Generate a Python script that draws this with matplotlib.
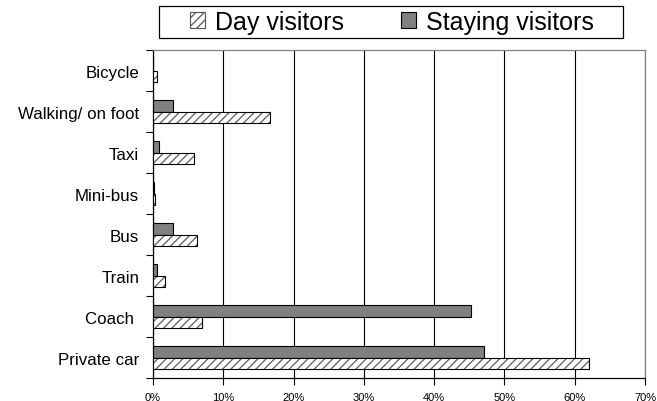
import matplotlib
matplotlib.use("Agg")
import matplotlib.pyplot as plt
import numpy as np
from matplotlib.patches import Patch, Rectangle
from matplotlib.ticker import FuncFormatter, MultipleLocator, FixedLocator

plt.rcParams['font.family'] = ['Liberation Sans', 'DejaVu Sans']
plt.rcParams['hatch.linewidth'] = 0.9

# transport mode shares (%), listed top to bottom
modes = ['Bicycle', 'Walking/ on foot', 'Taxi', 'Mini-bus', 'Bus', 'Train',
         'Coach ', 'Private car']
day_visitors = [0.6, 16.7, 5.9, 0.3, 6.2, 1.7, 7.0, 62.0]
staying_visitors = [0.0, 2.9, 0.9, 0.2, 2.9, 0.5, 45.2, 47.1]

fig = plt.figure(figsize=(6.57, 4.02), dpi=100)
ax = fig.add_axes([0.2329, 0.0572, 0.7488, 0.8158])

y = np.arange(len(modes))
h = 0.29

# staying visitors: solid grey bars above the day bars
ax.barh(y - h / 2, staying_visitors, height=h, color='#808080',
        edgecolor='black', linewidth=0.8, zorder=3)

# day visitors: grey hatching inside a black outline
ax.barh(y + h / 2, day_visitors, height=h, color='white', hatch='////',
        edgecolor='#5a5a5a', linewidth=0, zorder=3)
ax.barh(y + h / 2, day_visitors, height=h, fill=False,
        edgecolor='black', linewidth=0.8, zorder=4)

ax.set_xlim(0, 70)
ax.set_ylim(len(modes) - 0.5, -0.5)
ax.xaxis.set_major_locator(MultipleLocator(10))
ax.xaxis.set_major_formatter(FuncFormatter(lambda v, p: f'{v:.0f}%'))
ax.grid(axis='x', color='black', linewidth=0.8, zorder=0)

ax.set_yticks(y)
ax.set_yticklabels(modes, fontsize=12.2)
ax.yaxis.set_minor_locator(FixedLocator(np.arange(len(modes) + 1) - 0.5))
ax.tick_params(axis='y', which='major', length=0, pad=10)
ax.tick_params(axis='y', which='minor', length=5, width=0.8, direction='out')
ax.tick_params(axis='x', length=5, width=0.8, labelsize=8, pad=5)

for side in ['left', 'bottom']:
    ax.spines[side].set_linewidth(0.9)
for side in ['top', 'right']:
    ax.spines[side].set_color('#808080')
    ax.spines[side].set_linewidth(0.9)

# legend box with wide side padding, drawn separately
fig.add_artist(Rectangle((0.242, 0.903), 0.706, 0.0796, transform=fig.transFigure,
                         facecolor='white', edgecolor='black', linewidth=0.9))
handles = [Patch(facecolor='white', edgecolor='#555555', hatch='////', linewidth=0.8),
           Patch(facecolor='#808080', edgecolor='black', linewidth=0.8)]
fig.legend(handles, ['Day visitors', 'Staying visitors'], loc='center',
           bbox_to_anchor=(0.5966, 0.943), ncol=2, fontsize=18, frameon=False,
           handlelength=0.6, handleheight=0.6, handletextpad=0.4,
           columnspacing=2.3, borderpad=0, borderaxespad=0)

fig.savefig('out.png', dpi=100)
